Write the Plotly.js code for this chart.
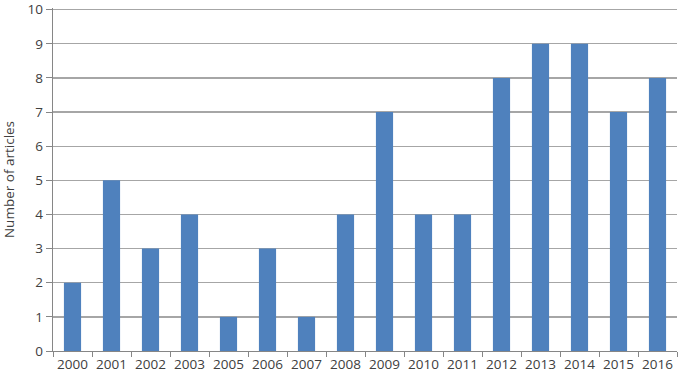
<!DOCTYPE html>
<html>
<head>
<meta charset="utf-8">
<script src="https://cdn.plot.ly/plotly-3.0.1.min.js"></script>
<style>html,body{margin:0;padding:0;background:#fff;}#chart{width:685px;height:377px;}</style>
</head>
<body>
<div id="chart"></div>
<script>
var years = ["2000","2001","2002","2003","2005","2006","2007","2008","2009","2010","2011","2012","2013","2014","2015","2016"];
var articles = [2,5,3,4,1,3,1,4,7,4,4,8,9,9,7,8];
var yTicks = [0,1,2,3,4,5,6,7,8,9,10];

var trace = {
  type: "bar",
  x: years,
  y: articles,
  marker: {color: "#4f81bd"},
  hoverinfo: "x+y"
};
var font = {family: "Open Sans, sans-serif", size: 13.5, color: "#404040"};
var layout = {
  width: 685, height: 377,
  margin: {l: 53, r: 8, t: 8, b: 26},
  paper_bgcolor: "#fff", plot_bgcolor: "#fff",
  font: font,
  bargap: 0.56,
  showlegend: false,
  xaxis: {
    type: "category",
    showline: true, linecolor: "#868686", linewidth: 1.3,
    ticks: "outside", tickson: "boundaries", ticklen: 5, tickcolor: "#868686",
    tickangle: 0, automargin: false,
    showgrid: false, zeroline: false,
    tickfont: font
  },
  yaxis: {
    range: [0, 10.05],
    tickvals: yTicks,
    automargin: false,
    ticklabeloverflow: "allow",
    showline: true, linecolor: "#868686", linewidth: 1.3,
    ticks: "outside", ticklen: 6, tickcolor: "#868686",
    showgrid: true, gridcolor: "#a6a6a6", gridwidth: 1.3,
    zeroline: false,
    tickfont: font,
    title: {text: "Number of articles", font: font, standoff: 10}
  }
};
Plotly.newPlot("chart", [trace], layout, {staticPlot: true});
</script>
</body>
</html>
